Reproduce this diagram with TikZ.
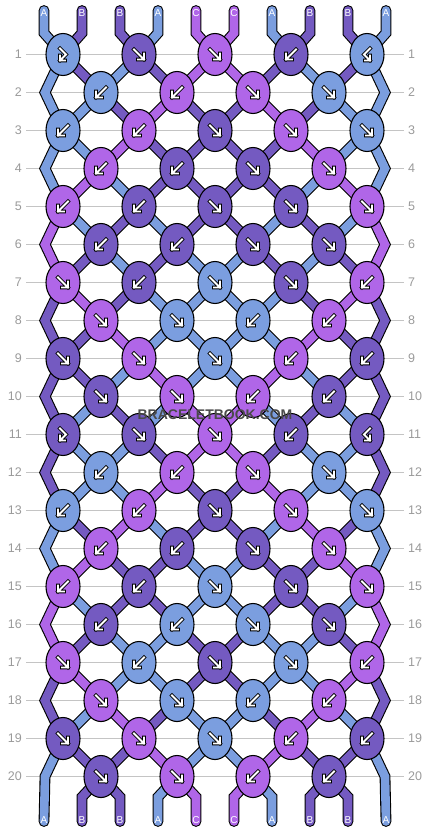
\documentclass[tikz,border=0pt]{standalone}
\usepackage{fontspec}
\setmainfont{Liberation Sans}
\usetikzlibrary{shapes.geometric,positioning,calc}

\definecolor{colA}{HTML}{7B9EDF}
\definecolor{colB}{HTML}{745AC1}
\definecolor{colC}{HTML}{B066E8}
\definecolor{rowgray}{HTML}{C4C4C4}
\definecolor{numgray}{HTML}{9A9A9A}
\definecolor{wmgray}{HTML}{4A4A4A}

% knot arrows: f, b, fb, bf
\newcommand\arrf[1]{\draw[arrowline,shift={(#1.center)}] (-5,-5) -- (5,5) (5,-1) -- (5,5) -- (-1,5);}
\newcommand\arrb[1]{\draw[arrowline,shift={(#1.center)}] (5,-5) -- (-5,5) (-5,-1) -- (-5,5) -- (1,5);}
\newcommand\arrfb[1]{\draw[arrowline,shift={(#1.center)}] (-3,-6) -- (3,0) -- (-3,6) (-3,1) -- (-3,6) -- (2,6);}
\newcommand\arrbf[1]{\draw[arrowline,shift={(#1.center)}] (3,-6) -- (-3,0) -- (3,6) (3,1) -- (3,6) -- (-2,6);}

\begin{document}
\begin{tikzpicture}[x=1pt,y=-1pt,
  knot/.style={ellipse,draw=black,line width=1.1pt,minimum width=34pt,minimum height=42pt,inner sep=0pt},
  strand/.style={draw=black,double=#1,double distance=8.6pt,line width=1.1pt,line cap=round},
  arrowline/.style={draw=black,double=white,double distance=1.8pt,line width=0.9pt,line cap=rect},
  rowline/.style={rowgray,line width=1.2pt},
  rownum/.style={numgray,font=\fontsize{12.5}{13}\selectfont,inner sep=0pt},
  endlabel/.style={white,font=\fontsize{10}{10}\selectfont,inner sep=0pt}]
\useasboundingbox (0,0) rectangle (430,832);

% rows
\foreach \r in {1,...,20}{
  \pgfmathsetmacro\yy{54.5+38*(\r-1)}
  \draw[rowline] (26,\yy) -- (404,\yy);
  \node[rownum,anchor=east] (numl-\r) at (22,\yy) {\r};
  \node[rownum,anchor=west] (numr-\r) at (408,\yy) {\r};
  \foreach \kc in {1,...,9}
    \coordinate (p-\r-\kc) at ({63+38*(\kc-1)},\yy);
}
\foreach \r in {2,4,...,20}{
  \coordinate (el-\r) at (45,{54.5+38*(\r-1)});
  \coordinate (er-\r) at (385,{54.5+38*(\r-1)});
}
\foreach \p in {1,...,10}{
  \coordinate (top-\p) at ({44+38*(\p-1)},10.5);
  \coordinate (topb-\p) at ({44+38*(\p-1)},33);
  \coordinate (botb-\p) at ({44+38*(\p-1)},797);
  \coordinate (bot-\p) at ({44+38*(\p-1)},821.5);
}

% strings in
\foreach \col [count=\p] in {A,B,B,A,C,C,A,B,B,A}{
  \pgfmathtruncatemacro\kc{\p-mod(\p+1,2)}
  \draw[strand=col\col] (top-\p) -- (topb-\p) -- (p-1-\kc);
}

% strings between knots
\foreach \r/\s in {1/{A,B,A,B,C,C,B,A,B,A},2/{A,A,B,C,B,B,C,B,A,A},
    3/{A,A,C,B,B,B,B,C,A,A},4/{A,C,A,B,B,B,B,A,C,A},5/{C,A,B,A,B,B,A,B,A,C},
    6/{C,B,A,B,A,A,B,A,B,C},7/{B,C,B,A,A,A,A,B,C,B},8/{B,B,C,A,A,A,A,C,B,B},
    9/{B,B,A,C,A,A,C,A,B,B},10/{B,A,B,A,C,C,A,B,A,B},11/{B,A,A,B,C,C,B,A,A,B},
    12/{B,A,A,C,B,B,C,A,A,B},13/{A,B,C,A,B,B,A,C,B,A},14/{A,C,B,B,A,A,B,B,C,A},
    15/{C,A,B,B,A,A,B,B,A,C},16/{C,B,A,A,B,B,A,A,B,C},17/{B,C,A,A,B,B,A,A,C,B},
    18/{B,A,C,B,A,A,B,C,A,B},19/{A,B,B,C,A,A,C,B,B,A}}{
  \pgfmathtruncatemacro\rn{\r+1}
  \foreach \col [count=\p] in \s {
    \ifnum\p>1 \ifnum\p<10
      \pgfmathtruncatemacro\ka{\p-mod(\p+\r,2)}
      \pgfmathtruncatemacro\kb{\p-mod(\p+\r+1,2)}
      \draw[strand=col\col] (p-\r-\ka) -- (p-\rn-\kb);
    \fi\fi
  }
}

% edge strings
\foreach \r/\col in {1/A,3/A,5/C,7/B,9/B,11/B,13/A,15/C,17/B}{
  \pgfmathtruncatemacro\ra{\r+1}
  \pgfmathtruncatemacro\rb{\r+2}
  \draw[strand=col\col] (p-\r-1) -- (el-\ra) -- (p-\rb-1);
  \draw[strand=col\col] (p-\r-9) -- (er-\ra) -- (p-\rb-9);
}
\draw[strand=colA] (p-19-1) -- (el-20) -- (bot-1);
\draw[strand=colA] (p-19-9) -- (er-20) -- (bot-10);

% strings out
\foreach \col [count=\p] in {A,B,B,A,C,C,A,B,B,A}{
  \ifnum\p>1 \ifnum\p<10
    \pgfmathtruncatemacro\kc{\p-mod(\p,2)}
    \draw[strand=col\col] (p-20-\kc) -- (botb-\p) -- (bot-\p);
  \fi\fi
}

% knots
\foreach \r/\k in {1/{fb/A,f/B,f/C,b/B,bf/A},2/{b/A,b/C,f/C,f/A},
    3/{b/A,b/C,f/B,f/C,f/A},4/{b/C,b/B,f/B,f/C},5/{b/C,b/B,f/B,f/B,f/C},
    6/{b/B,b/B,f/B,f/B},7/{f/C,b/B,f/A,f/B,b/C},8/{f/C,f/A,b/A,b/C},
    9/{f/B,f/C,f/A,b/C,b/B},10/{f/B,f/C,b/C,b/B},11/{fb/B,f/B,f/C,b/B,bf/B},
    12/{b/A,b/C,f/C,f/A},13/{b/A,b/C,f/B,f/C,f/A},14/{b/C,b/B,f/B,f/C},
    15/{b/C,b/B,f/A,f/B,f/C},16/{b/B,b/A,f/A,f/B},17/{f/C,b/A,f/B,f/A,b/C},
    18/{f/C,f/A,b/A,b/C},19/{f/B,f/C,f/A,b/C,b/B},20/{f/B,f/C,b/C,b/B}}{
  \foreach \kd/\col [count=\i] in \k {
    \pgfmathtruncatemacro\kc{2*\i-mod(\r,2)}
    \node[knot,fill=col\col] (k-\r-\kc) at (p-\r-\kc) {};
    \csname arr\kd\endcsname{k-\r-\kc}
  }
}

% string letters
\foreach \col [count=\p] in {A,B,B,A,C,C,A,B,B,A}{
  \node[endlabel] (lt-\p) at ({44+38*(\p-1)},13) {\col};
  \node[endlabel] (lb-\p) at ({44+38*(\p-1)},820) {\col};
}

% watermark
\node[wmgray,font=\bfseries\fontsize{14}{14}\selectfont,inner sep=0pt] (mark) at (215,415) {BRACELETBOOK.COM};
\end{tikzpicture}
\end{document}
